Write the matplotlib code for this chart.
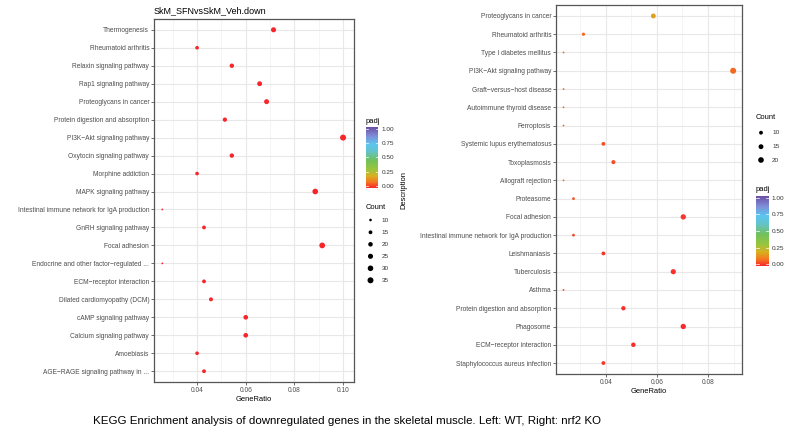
import matplotlib
matplotlib.use("Agg")
import matplotlib.pyplot as plt
import numpy as np
from matplotlib.colors import LinearSegmentedColormap, Normalize
from matplotlib.cm import ScalarMappable

plt.rcParams['font.family'] = ['Liberation Sans', 'DejaVu Sans']

# left panel: WT
left_terms = ["Thermogenesis", "Rheumatoid arthritis", "Relaxin signaling pathway",
              "Rap1 signaling pathway", "Proteoglycans in cancer",
              "Protein digestion and absorption", "PI3K\u2212Akt signaling pathway",
              "Oxytocin signaling pathway", "Morphine addiction", "MAPK signaling pathway",
              "Intestinal immune network for IgA production", "GnRH signaling pathway",
              "Focal adhesion", "Endocrine and other factor\u2212regulated ...",
              "ECM\u2212receptor interaction", "Dilated cardiomyopathy (DCM)",
              "cAMP signaling pathway", "Calcium signaling pathway", "Amoebiasis",
              "AGE\u2212RAGE signaling pathway in ..."]
left_count = [25, 14, 19, 23, 24, 18, 35, 19, 14, 31, 9, 15, 32, 9, 15, 16, 21, 21, 14, 15]
left_total = 350
left_padj = [0.0] * 20

# right panel: nrf2 KO
right_terms = ["Proteoglycans in cancer", "Rheumatoid arthritis", "Type I diabetes mellitus",
               "PI3K\u2212Akt signaling pathway", "Graft\u2212versus\u2212host disease",
               "Autoimmune thyroid disease", "Ferroptosis", "Systemic lupus erythematosus",
               "Toxoplasmosis", "Allograft rejection", "Proteasome", "Focal adhesion",
               "Intestinal immune network for IgA production", "Leishmaniasis",
               "Tuberculosis", "Asthma", "Protein digestion and absorption", "Phagosome",
               "ECM\u2212receptor interaction", "Staphylococcus aureus infection"]
right_count = [15, 8, 6, 23, 6, 6, 6, 10, 11, 6, 7, 18, 7, 10, 17, 6, 12, 18, 13, 10]
right_total = 256
right_padj = [0.17, 0.08, 0.08, 0.08, 0.08, 0.08, 0.08, 0.05, 0.05, 0.08, 0.06, 0.02,
              0.04, 0.02, 0.015, 0.03, 0.01, 0.005, 0.01, 0.02]

left_size_ticks = [10, 15, 20, 25, 30, 35]
right_size_ticks = [10, 15, 20]
padj_ticks = [0.0, 0.25, 0.5, 0.75, 1.0]

cmap = LinearSegmentedColormap.from_list("padj", [
    (0.0, '#F8262B'), (0.1, '#F47A20'), (0.2, '#D8B020'), (0.3, '#9BC53D'),
    (0.45, '#72C15A'), (0.6, '#63C3C8'), (0.72, '#5BC5F0'), (0.85, '#7F8FD8'),
    (1.0, '#6A4FA3')])
norm = Normalize(0, 1)

W, H = 795, 428
fig = plt.figure(figsize=(W / 100, H / 100), dpi=100)


def px_axes(l, t, r, b):
    return fig.add_axes([l / W, 1 - b / H, (r - l) / W, (b - t) / H])


def size_of(c, cmin, cmax):
    d = 1.8 + np.sqrt((np.asarray(c, float) - cmin) / (cmax - cmin)) * 4.2
    return (d * 0.72) ** 2


def panel(ax, terms, count, total, padj, xlim, major, minor):
    ratio = np.array(count) / total
    y = np.arange(len(terms))
    ax.set_xlim(*xlim)
    ax.set_ylim(len(terms) - 0.4, -0.6)
    for v in minor:
        ax.axvline(v, color='#F2F2F2', lw=0.5, zorder=0)
    for v in major:
        ax.axvline(v, color='#E8E8E8', lw=0.8, zorder=0)
    for v in y:
        ax.axhline(v, color='#E8E8E8', lw=0.8, zorder=0)
    ax.scatter(ratio, y, s=size_of(count, min(count), max(count)),
               c=padj, cmap=cmap, norm=norm, linewidths=0, zorder=3)
    ax.set_xticks(major)
    ax.set_xticklabels([f"{v:.2f}" for v in major])
    ax.set_yticks(y)
    ax.set_yticklabels(terms)
    ax.tick_params(labelsize=4.8, labelcolor='#4D4D4D', color='#333333',
                   length=2, width=0.5, pad=1.5)
    for sp in ax.spines.values():
        sp.set_color('#555555')
        sp.set_linewidth(0.9)
    ax.set_xlabel("GeneRatio", fontsize=5.4, labelpad=1.5)
    return ratio


axl = px_axes(154, 19, 354, 382)
panel(axl, left_terms, left_count, left_total, left_padj, (0.0223, 0.1045),
      [0.04, 0.06, 0.08, 0.10], [0.03, 0.05, 0.07, 0.09])
axl.set_title("SkM_SFNvsSkM_Veh.down", fontsize=6.5, loc='left', pad=4)

axr = px_axes(556, 5, 742, 374)
panel(axr, right_terms, right_count, right_total, right_padj, (0.0205, 0.0933),
      [0.04, 0.06, 0.08], [0.03, 0.05, 0.07, 0.09])
fig.text(404 / W, 1 - 190 / H, "Description", rotation=90, fontsize=5.4,
         ha='center', va='center')

# overlay in pixel coordinates for the legends
ov = fig.add_axes([0, 0, 1, 1], zorder=-1)
ov.set_xlim(0, W)
ov.set_ylim(H, 0)
ov.axis('off')


def count_legend(x, y_title, ys, ticks, cmin, cmax):
    ov.text(x, y_title, "Count", fontsize=5.4, va='center', ha='left')
    ov.scatter([x + 5] * len(ticks), ys, s=size_of(ticks, cmin, cmax),
               color='black', linewidths=0)
    for yy, t in zip(ys, ticks):
        ov.text(x + 16, yy, str(t), fontsize=4.6, va='center', color='#333333')


def padj_legend(x, y_title, top, bottom):
    ov.text(x, y_title, "padj", fontsize=5.4, va='center', ha='left')
    cax = px_axes(x, top, x + 12.5, bottom)
    cb = fig.colorbar(ScalarMappable(norm=Normalize(-0.03, 1.03), cmap=cmap),
                      cax=cax, ticks=padj_ticks)
    cb.outline.set_visible(False)
    cax.set_ylim(-0.03, 1.03)
    cax.set_yticklabels([f"{v:.2f}" for v in padj_ticks])
    cax.tick_params(labelsize=4.6, labelcolor='#333333', length=0, pad=2.5)
    for v in padj_ticks:
        cax.axhline(v, xmin=0, xmax=0.2, color='white', lw=0.5)
        cax.axhline(v, xmin=0.8, xmax=1, color='white', lw=0.5)


padj_legend(365.5, 121, 127, 188)
count_legend(365.5, 207, [220, 232.3, 244.3, 256.3, 268.3, 280.3], left_size_ticks,
             min(left_count), max(left_count))

count_legend(756, 117, [132.7, 146.7, 160], right_size_ticks,
             min(right_count), max(right_count))
padj_legend(756, 189, 196, 266)

fig.text(93 / W, 1 - 421 / H,
         "KEGG Enrichment analysis of downregulated genes in the skeletal muscle. "
         "Left: WT, Right: nrf2 KO", fontsize=8.25, ha='left', va='center')

fig.savefig("out.png", dpi=100)
